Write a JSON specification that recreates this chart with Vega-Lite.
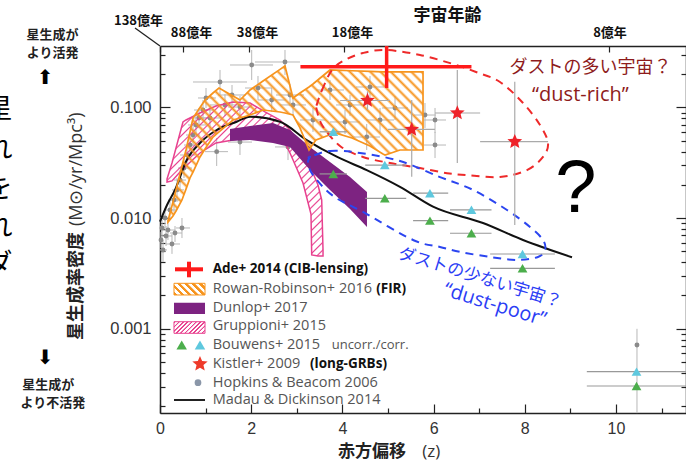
{
"$schema":"https://vega.github.io/schema/vega-lite/v6.json",
"width":526,"height":367,
"autosize":{"type":"none"},
"padding":{"left":160,"top":46,"right":0,"bottom":49},
"background":"white",
"config":{"view":{"stroke":null},"axis":{"grid":false}},
"datasets":{
"hb":[
{"z":0.022,"v":0.00635,"zlo":0,"zhi":0.066,"vhi":0.00749,"vlo":0.00537},
{"z":0.044,"v":0.00815,"zlo":0,"zhi":0.11,"vhi":0.00962,"vlo":0.00661},
{"z":0.066,"v":0.00516,"zlo":0,"zhi":0.154,"vhi":0.00635,"vlo":0.00402},
{"z":0.11,"v":0.01003,"zlo":0,"zhi":0.219,"vhi":0.01235,"vlo":0.00815},
{"z":0.132,"v":0.0069,"zlo":0.044,"zhi":0.263,"vhi":0.00849,"vlo":0.0056},
{"z":0.175,"v":0.00781,"zlo":0.066,"zhi":0.329,"vhi":0.00962,"vlo":0.00635},
{"z":0.219,"v":0.01185,"zlo":0.11,"zhi":0.351,"vhi":0.0146,"vlo":0.00962},
{"z":0.263,"v":0.00584,"zlo":0.132,"zhi":0.439,"vhi":0.00719,"vlo":0.00475},
{"z":0.307,"v":0.0146,"zlo":0.175,"zhi":0.439,"vhi":0.018,"vlo":0.01137},
{"z":0.329,"v":0.00734,"zlo":0.219,"zhi":0.482,"vhi":0.00849,"vlo":0.00609},
{"z":0.373,"v":0.018,"zlo":0.263,"zhi":0.526,"vhi":0.02304,"vlo":0.014},
{"z":0.439,"v":0.0221,"zlo":0.307,"zhi":0.57,"vhi":0.0272,"vlo":0.018},
{"z":0.482,"v":0.00815,"zlo":0.351,"zhi":0.658,"vhi":0.01003,"vlo":0.00661},
{"z":0.526,"v":0.02836,"zlo":0.395,"zhi":0.702,"vhi":0.03492,"vlo":0.02304},
{"z":0.592,"v":0.0372,"zlo":0.439,"zhi":0.768,"vhi":0.0458,"vlo":0.0296},
{"z":0.658,"v":0.0458,"zlo":0.526,"zhi":0.833,"vhi":0.0564,"vlo":0.0372},
{"z":0.724,"v":0.0564,"zlo":0.57,"zhi":0.877,"vhi":0.0695,"vlo":0.0449},
{"z":0.789,"v":0.0695,"zlo":0.614,"zhi":1.009,"vhi":0.0837,"vlo":0.0564},
{"z":0.855,"v":0.0804,"zlo":0.658,"zhi":1.096,"vhi":0.099,"vlo":0.0653},
{"z":0.943,"v":0.0949,"zlo":0.746,"zhi":1.184,"vhi":0.1169,"vlo":0.0771},
{"z":1.009,"v":0.1219,"zlo":0.833,"zhi":1.228,"vhi":0.15,"vlo":0.099},
{"z":1.096,"v":0.0804,"zlo":0.833,"zhi":1.36,"vhi":0.1032,"vlo":0.0626},
{"z":1.243,"v":0.0399,"zlo":0.987,"zhi":1.491,"vhi":0.053,"vlo":0.0296},
{"z":1.316,"v":0.17,"zlo":0.724,"zhi":1.908,"vhi":0.2183,"vlo":0.1324},
{"z":1.425,"v":0.1054,"zlo":1.096,"zhi":1.754,"vhi":0.1324,"vlo":0.0837},
{"z":1.579,"v":0.1297,"zlo":1.272,"zhi":1.886,"vhi":0.1597,"vlo":0.1032},
{"z":1.754,"v":0.101,"zlo":1.491,"zhi":2.018,"vhi":0.127,"vlo":0.0804},
{"z":1.754,"v":0.0487,"zlo":1.491,"zhi":2.018,"vhi":0.0626,"vlo":0.0372},
{"z":2.011,"v":0.2421,"zlo":1.535,"zhi":2.478,"vhi":0.3309,"vlo":0.1772},
{"z":2.149,"v":0.15,"zlo":1.864,"zhi":2.456,"vhi":0.1927,"vlo":0.1169},
{"z":2.45,"v":0.1169,"zlo":2.149,"zhi":2.763,"vhi":0.15,"vlo":0.0911},
{"z":2.741,"v":0.2577,"zlo":2.083,"zhi":3.07,"vhi":0.3309,"vlo":0.1967},
{"z":2.807,"v":0.044,"zlo":2.522,"zhi":3.07,"vhi":0.0564,"vlo":0.0335},
{"z":2.851,"v":0.1297,"zlo":2.544,"zhi":3.158,"vhi":0.1631,"vlo":0.1032},
{"z":2.917,"v":0.1054,"zlo":2.632,"zhi":3.202,"vhi":0.1297,"vlo":0.0837},
{"z":3.355,"v":0.0771,"zlo":3.07,"zhi":3.64,"vhi":0.099,"vlo":0.0601},
{"z":3.728,"v":0.1439,"zlo":3.421,"zhi":4.035,"vhi":0.1772,"vlo":0.1169},
{"z":4.057,"v":0.074,"zlo":3.728,"zhi":4.386,"vhi":0.0949,"vlo":0.0576},
{"z":4.167,"v":0.1054,"zlo":3.86,"zhi":4.474,"vhi":0.1297,"vlo":0.0837},
{"z":4.533,"v":0.0541,"zlo":4.211,"zhi":4.825,"vhi":0.071,"vlo":0.0413},
{"z":4.605,"v":0.1532,"zlo":4.298,"zhi":4.912,"vhi":0.1927,"vlo":0.1219},
{"z":4.825,"v":0.0771,"zlo":4.518,"zhi":5.132,"vhi":0.099,"vlo":0.0588},
{"z":5.154,"v":0.099,"zlo":4.868,"zhi":5.439,"vhi":0.127,"vlo":0.0771},
{"z":5.811,"v":0.0855,"zlo":5.57,"zhi":6.053,"vhi":0.1099,"vlo":0.0653},
{"z":6.031,"v":0.0771,"zlo":5.789,"zhi":6.272,"vhi":0.099,"vlo":0.0588},
{"z":6.031,"v":0.0458,"zlo":5.789,"zhi":6.272,"vhi":0.0601,"vlo":0.03492},
{"z":10.46,"v":0.000714,"zlo":10.46,"zhi":10.46,"vhi":0.001,"vlo":0.000173}
],
"orange":[
{"z":0.175,"hi":0.0095,"lo":0.0092},{"z":0.285,"hi":0.014,"lo":0.01045},{"z":0.351,"hi":0.018,"lo":0.0116},
{"z":0.482,"hi":0.0296,"lo":0.0146},{"z":0.57,"hi":0.0413,"lo":0.0183},{"z":0.658,"hi":0.0601,"lo":0.0231},
{"z":0.724,"hi":0.0804,"lo":0.0261},{"z":0.877,"hi":0.1,"lo":0.0357},{"z":0.987,"hi":0.1169,"lo":0.0422},
{"z":1.162,"hi":0.1352,"lo":0.0541},{"z":1.294,"hi":0.15,"lo":0.0601},{"z":1.601,"hi":0.127,"lo":0.0771},
{"z":1.754,"hi":0.1169,"lo":0.0804},{"z":1.974,"hi":0.1439,"lo":0.0855},{"z":2.259,"hi":0.1736,"lo":0.0949},
{"z":2.632,"hi":0.221,"lo":0.0911},{"z":2.741,"hi":0.2371,"lo":0.0892},{"z":2.917,"hi":0.1219,"lo":0.0855},
{"z":3.07,"hi":0.1352,"lo":0.0653},{"z":3.268,"hi":0.1532,"lo":0.0413},{"z":3.355,"hi":0.1631,"lo":0.0468},
{"z":3.421,"hi":0.1718,"lo":0.0508},{"z":3.728,"hi":0.2183,"lo":0.0567},{"z":3.838,"hi":0.2174,"lo":0.0588},
{"z":4.211,"hi":0.2147,"lo":0.053},{"z":4.605,"hi":0.2116,"lo":0.0449},{"z":4.89,"hi":0.2094,"lo":0.038},
{"z":4.934,"hi":0.2094,"lo":0.0372},{"z":5.263,"hi":0.2094,"lo":0.0413},{"z":5.768,"hi":0.2094,"lo":0.0413}
],
"pink":[
{"z":0.154,"hi":0.02256,"lo":0.0212},{"z":0.263,"hi":0.03148,"lo":0.0217},{"z":0.439,"hi":0.0588,"lo":0.0261},
{"z":0.504,"hi":0.074,"lo":0.0278},{"z":0.57,"hi":0.0771,"lo":0.0296},{"z":0.877,"hi":0.0892,"lo":0.0388},
{"z":1.228,"hi":0.1032,"lo":0.0478},{"z":1.601,"hi":0.1121,"lo":0.0508},{"z":1.974,"hi":0.1098,"lo":0.0553},
{"z":2.303,"hi":0.0911,"lo":0.0588},{"z":2.632,"hi":0.0771,"lo":0.0588},{"z":2.851,"hi":0.0626,"lo":0.0388},
{"z":3.004,"hi":0.0498,"lo":0.0278},{"z":3.136,"hi":0.0388,"lo":0.0208},{"z":3.311,"hi":0.0285,"lo":0.0109},
{"z":3.327,"hi":0.0272,"lo":0.00465},{"z":3.465,"hi":0.0199,"lo":0.00455},{"z":3.546,"hi":0.0146,"lo":0.00455},
{"z":3.575,"hi":0.00516,"lo":0.00455}
],
"purple":[
{"z":1.535,"hi":0.0639,"lo":0.0498},{"z":1.974,"hi":0.0681,"lo":0.0508},{"z":2.478,"hi":0.0724,"lo":0.0478},
{"z":2.851,"hi":0.0626,"lo":0.044},{"z":3.289,"hi":0.044,"lo":0.0272},{"z":3.728,"hi":0.0322,"lo":0.018},
{"z":4.167,"hi":0.0235,"lo":0.0121},{"z":4.539,"hi":0.0172,"lo":0.00832}
],
"madau":[
{"z":0,"v":0.00929},{"z":0.154,"v":0.01315},{"z":0.329,"v":0.018},{"z":0.586,"v":0.0335},{"z":0.877,"v":0.0478},
{"z":1.243,"v":0.0626},{"z":1.682,"v":0.0744},{"z":1.974,"v":0.0826},{"z":2.632,"v":0.0744},{"z":3.217,"v":0.0508},
{"z":3.875,"v":0.0359},{"z":4.533,"v":0.0272},{"z":5.263,"v":0.0192},{"z":5.987,"v":0.0127},{"z":7.083,"v":0.00904},
{"z":7.961,"v":0.00635},{"z":9.035,"v":0.00443}
],
"redloop":[
{"i":1,"z":3.421,"v":0.101},{"i":2,"z":3.553,"v":0.1439},{"i":3,"z":3.772,"v":0.2183},{"i":4,"z":4.057,"v":0.2687},
{"i":5,"z":4.452,"v":0.3108},{"i":6,"z":4.956,"v":0.3309},{"i":7,"z":5.702,"v":0.2981},{"i":8,"z":6.425,"v":0.2472},
{"i":9,"z":6.93,"v":0.2094},{"i":10,"z":7.456,"v":0.17},{"i":11,"z":7.961,"v":0.1099},{"i":12,"z":8.333,"v":0.0695},
{"i":13,"z":8.509,"v":0.0477},{"i":14,"z":8.399,"v":0.0357},{"i":15,"z":8.048,"v":0.0272},{"i":16,"z":7.456,"v":0.0235},
{"i":17,"z":6.732,"v":0.0245},{"i":18,"z":6.294,"v":0.0255},{"i":19,"z":5.702,"v":0.02836},{"i":20,"z":5.044,"v":0.0315},
{"i":21,"z":4.452,"v":0.0357},{"i":22,"z":3.947,"v":0.0449},{"i":23,"z":3.553,"v":0.0695},{"i":24,"z":3.421,"v":0.101}
],
"blueloop":[
{"i":1,"z":3.289,"v":0.0357},{"i":2,"z":3.728,"v":0.0405},{"i":3,"z":4.386,"v":0.0388},{"i":4,"z":5.263,"v":0.0328},
{"i":5,"z":6.14,"v":0.0235},{"i":6,"z":6.864,"v":0.018},{"i":7,"z":7.61,"v":0.01185},{"i":8,"z":8.114,"v":0.00832},
{"i":9,"z":8.399,"v":0.00635},{"i":10,"z":8.443,"v":0.00516},{"i":11,"z":8.289,"v":0.00446},{"i":12,"z":7.829,"v":0.00419},
{"i":13,"z":7.237,"v":0.00446},{"i":14,"z":6.579,"v":0.00495},{"i":15,"z":6.14,"v":0.00549},{"i":16,"z":5.548,"v":0.00635},
{"i":17,"z":4.452,"v":0.01137},{"i":18,"z":3.794,"v":0.0159},{"i":19,"z":3.355,"v":0.0245},{"i":20,"z":3.246,"v":0.0321},
{"i":21,"z":3.289,"v":0.0357}
],
"bouwens":[
{"kind":"corr","z":3.8,"v":0.0603,"zlo":3.5,"zhi":4.1},{"kind":"corr","z":4.93,"v":0.0302,"zlo":4.5,"zhi":5.4},
{"kind":"corr","z":5.92,"v":0.0168,"zlo":5.55,"zhi":6.32},{"kind":"corr","z":6.83,"v":0.0119,"zlo":6.36,"zhi":7.27},
{"kind":"corr","z":7.95,"v":0.00474,"zlo":7.24,"zhi":8.66},{"kind":"corr","z":10.45,"v":0.00041,"zlo":9.36,"zhi":11.6},
{"kind":"uncorr","z":3.8,"v":0.0251,"zlo":3.5,"zhi":4.1},{"kind":"uncorr","z":4.93,"v":0.0151,"zlo":4.5,"zhi":5.4},
{"kind":"uncorr","z":5.92,"v":0.0095,"zlo":5.55,"zhi":6.32},{"kind":"uncorr","z":6.83,"v":0.0073,"zlo":6.36,"zhi":7.27},
{"kind":"uncorr","z":7.95,"v":0.00352,"zlo":7.24,"zhi":8.66},{"kind":"uncorr","z":10.45,"v":0.000304,"zlo":9.36,"zhi":11.6}
],
"kistler":[
{"z":4.55,"v":0.1157,"zlo":3.95,"zhi":5.04,"vhi":0.14,"vlo":0.095},
{"z":5.52,"v":0.0633,"zlo":5.0,"zhi":6.03,"vhi":0.1169,"vlo":0.0237},
{"z":6.52,"v":0.0892,"zlo":6.03,"zhi":7.02,"vhi":0.2183,"vlo":0.0315},
{"z":7.78,"v":0.0491,"zlo":7.02,"zhi":8.51,"vhi":0.1711,"vlo":0.00867}
],
"ade":[{"z":4.97,"v":0.2337,"zlo":3.08,"zhi":6.83,"vlo":0.15,"vhi":0.3595}]
},
"layer":[
{"layer":[
{"data":{"name":"hb"},"mark":{"type":"rule","color":"#b8b8b8","strokeWidth":1},
 "encoding":{
  "x":{"field":"zlo","type":"quantitative","scale":{"domain":[0,11.535],"nice":false,"zero":false},
   "axis":{"orient":"bottom","title":null,"values":[0,0.5,1,1.5,2,2.5,3,3.5,4,4.5,5,5.5,6,6.5,7,7.5,8,8.5,9,9.5,10,10.5,11,11.5],
    "labelExpr":"datum.value % 2 == 0 ? datum.value : ''",
    "tickSize":{"condition":{"test":"datum.value % 2 == 0","value":-9},"value":-5},
    "tickColor":"#222","tickWidth":1.2,"domainColor":"#222","domainWidth":1.5,
    "labelFont":"Liberation Sans","labelFontSize":16,"labelColor":"#333","labelPadding":16,"labelFlush":false,"labelOverlap":false}},
  "x2":{"field":"zhi"},
  "y":{"field":"v","type":"quantitative","scale":{"type":"log","domain":[0.0001734,0.3595],"nice":false},
   "axis":{"orient":"left","title":null,
    "values":[0.0002,0.0003,0.0004,0.0005,0.0006,0.0007,0.0008,0.0009,0.001,0.002,0.003,0.004,0.005,0.006,0.007,0.008,0.009,0.01,0.02,0.03,0.04,0.05,0.06,0.07,0.08,0.09,0.1,0.2,0.3],
    "labelExpr":"datum.value == 0.1 || datum.value == 0.01 || datum.value == 0.001 ? format(datum.value, '.3f') : ''",
    "tickSize":{"condition":{"test":"datum.value == 0.1 || datum.value == 0.01 || datum.value == 0.001","value":-10},"value":-5},
    "tickColor":"#222","tickWidth":1.2,"domainColor":"#222","domainWidth":1.5,
    "labelFont":"Liberation Sans","labelFontSize":16.5,"labelColor":"#333","labelPadding":19,"labelFlush":false,"labelOverlap":false,"labelBaseline":"middle"}}}},
{"data":{"name":"hb"},"mark":{"type":"rule","color":"#b8b8b8","strokeWidth":1},
 "encoding":{"x":{"field":"z","type":"quantitative"},"y":{"field":"vlo","type":"quantitative","scale":{"type":"log"}},"y2":{"field":"vhi"}}},
{"data":{"name":"hb"},"mark":{"type":"circle","color":"#8a8a8a","size":24,"opacity":1},
 "encoding":{"x":{"field":"z","type":"quantitative"},"y":{"field":"v","type":"quantitative","scale":{"type":"log"}}}},
{"data":{"name":"pink"},"mark":{"type":"area","opacity":1,"stroke":"#e8418f","strokeWidth":1.5,
  "fill":{"gradient":"linear","x1":0,"y1":0,"x2":1,"y2":1,"stops":[
{"offset":0,"color":"rgba(232,65,143,0)"},{"offset":0.005,"color":"#e8418f"},{"offset":0.01,"color":"rgba(232,65,143,0)"},
{"offset":0.025,"color":"rgba(232,65,143,0)"},{"offset":0.03,"color":"#e8418f"},{"offset":0.035,"color":"rgba(232,65,143,0)"},
{"offset":0.05,"color":"rgba(232,65,143,0)"},{"offset":0.055,"color":"#e8418f"},{"offset":0.06,"color":"rgba(232,65,143,0)"},
{"offset":0.075,"color":"rgba(232,65,143,0)"},{"offset":0.08,"color":"#e8418f"},{"offset":0.085,"color":"rgba(232,65,143,0)"},
{"offset":0.1,"color":"rgba(232,65,143,0)"},{"offset":0.105,"color":"#e8418f"},{"offset":0.11,"color":"rgba(232,65,143,0)"},
{"offset":0.125,"color":"rgba(232,65,143,0)"},{"offset":0.13,"color":"#e8418f"},{"offset":0.135,"color":"rgba(232,65,143,0)"},
{"offset":0.15,"color":"rgba(232,65,143,0)"},{"offset":0.155,"color":"#e8418f"},{"offset":0.16,"color":"rgba(232,65,143,0)"},
{"offset":0.175,"color":"rgba(232,65,143,0)"},{"offset":0.18,"color":"#e8418f"},{"offset":0.185,"color":"rgba(232,65,143,0)"},
{"offset":0.2,"color":"rgba(232,65,143,0)"},{"offset":0.205,"color":"#e8418f"},{"offset":0.21,"color":"rgba(232,65,143,0)"},
{"offset":0.225,"color":"rgba(232,65,143,0)"},{"offset":0.23,"color":"#e8418f"},{"offset":0.235,"color":"rgba(232,65,143,0)"},
{"offset":0.25,"color":"rgba(232,65,143,0)"},{"offset":0.255,"color":"#e8418f"},{"offset":0.26,"color":"rgba(232,65,143,0)"},
{"offset":0.275,"color":"rgba(232,65,143,0)"},{"offset":0.28,"color":"#e8418f"},{"offset":0.285,"color":"rgba(232,65,143,0)"},
{"offset":0.3,"color":"rgba(232,65,143,0)"},{"offset":0.305,"color":"#e8418f"},{"offset":0.31,"color":"rgba(232,65,143,0)"},
{"offset":0.325,"color":"rgba(232,65,143,0)"},{"offset":0.33,"color":"#e8418f"},{"offset":0.335,"color":"rgba(232,65,143,0)"},
{"offset":0.35,"color":"rgba(232,65,143,0)"},{"offset":0.355,"color":"#e8418f"},{"offset":0.36,"color":"rgba(232,65,143,0)"},
{"offset":0.375,"color":"rgba(232,65,143,0)"},{"offset":0.38,"color":"#e8418f"},{"offset":0.385,"color":"rgba(232,65,143,0)"},
{"offset":0.4,"color":"rgba(232,65,143,0)"},{"offset":0.405,"color":"#e8418f"},{"offset":0.41,"color":"rgba(232,65,143,0)"},
{"offset":0.425,"color":"rgba(232,65,143,0)"},{"offset":0.43,"color":"#e8418f"},{"offset":0.435,"color":"rgba(232,65,143,0)"},
{"offset":0.45,"color":"rgba(232,65,143,0)"},{"offset":0.455,"color":"#e8418f"},{"offset":0.46,"color":"rgba(232,65,143,0)"},
{"offset":0.475,"color":"rgba(232,65,143,0)"},{"offset":0.48,"color":"#e8418f"},{"offset":0.485,"color":"rgba(232,65,143,0)"},
{"offset":0.5,"color":"rgba(232,65,143,0)"},{"offset":0.505,"color":"#e8418f"},{"offset":0.51,"color":"rgba(232,65,143,0)"},
{"offset":0.525,"color":"rgba(232,65,143,0)"},{"offset":0.53,"color":"#e8418f"},{"offset":0.535,"color":"rgba(232,65,143,0)"},
{"offset":0.55,"color":"rgba(232,65,143,0)"},{"offset":0.555,"color":"#e8418f"},{"offset":0.56,"color":"rgba(232,65,143,0)"},
{"offset":0.575,"color":"rgba(232,65,143,0)"},{"offset":0.58,"color":"#e8418f"},{"offset":0.585,"color":"rgba(232,65,143,0)"},
{"offset":0.6,"color":"rgba(232,65,143,0)"},{"offset":0.605,"color":"#e8418f"},{"offset":0.61,"color":"rgba(232,65,143,0)"},
{"offset":0.625,"color":"rgba(232,65,143,0)"},{"offset":0.63,"color":"#e8418f"},{"offset":0.635,"color":"rgba(232,65,143,0)"},
{"offset":0.65,"color":"rgba(232,65,143,0)"},{"offset":0.655,"color":"#e8418f"},{"offset":0.66,"color":"rgba(232,65,143,0)"},
{"offset":0.675,"color":"rgba(232,65,143,0)"},{"offset":0.68,"color":"#e8418f"},{"offset":0.685,"color":"rgba(232,65,143,0)"},
{"offset":0.7,"color":"rgba(232,65,143,0)"},{"offset":0.705,"color":"#e8418f"},{"offset":0.71,"color":"rgba(232,65,143,0)"},
{"offset":0.725,"color":"rgba(232,65,143,0)"},{"offset":0.73,"color":"#e8418f"},{"offset":0.735,"color":"rgba(232,65,143,0)"},
{"offset":0.75,"color":"rgba(232,65,143,0)"},{"offset":0.755,"color":"#e8418f"},{"offset":0.76,"color":"rgba(232,65,143,0)"},
{"offset":0.775,"color":"rgba(232,65,143,0)"},{"offset":0.78,"color":"#e8418f"},{"offset":0.785,"color":"rgba(232,65,143,0)"},
{"offset":0.8,"color":"rgba(232,65,143,0)"},{"offset":0.805,"color":"#e8418f"},{"offset":0.81,"color":"rgba(232,65,143,0)"},
{"offset":0.825,"color":"rgba(232,65,143,0)"},{"offset":0.83,"color":"#e8418f"},{"offset":0.835,"color":"rgba(232,65,143,0)"},
{"offset":0.85,"color":"rgba(232,65,143,0)"},{"offset":0.855,"color":"#e8418f"},{"offset":0.86,"color":"rgba(232,65,143,0)"},
{"offset":0.875,"color":"rgba(232,65,143,0)"},{"offset":0.88,"color":"#e8418f"},{"offset":0.885,"color":"rgba(232,65,143,0)"},
{"offset":0.9,"color":"rgba(232,65,143,0)"},{"offset":0.905,"color":"#e8418f"},{"offset":0.91,"color":"rgba(232,65,143,0)"},
{"offset":0.925,"color":"rgba(232,65,143,0)"},{"offset":0.93,"color":"#e8418f"},{"offset":0.935,"color":"rgba(232,65,143,0)"},
{"offset":0.95,"color":"rgba(232,65,143,0)"},{"offset":0.955,"color":"#e8418f"},{"offset":0.96,"color":"rgba(232,65,143,0)"},
{"offset":0.975,"color":"rgba(232,65,143,0)"},{"offset":0.98,"color":"#e8418f"},{"offset":0.985,"color":"rgba(232,65,143,0)"}]}},
 "encoding":{"x":{"field":"z","type":"quantitative"},"y":{"field":"hi","type":"quantitative","scale":{"type":"log"}},"y2":{"field":"lo"}}},
{"data":{"name":"purple"},"mark":{"type":"area","opacity":1,"color":"#7d2381"},
 "encoding":{"x":{"field":"z","type":"quantitative"},"y":{"field":"hi","type":"quantitative","scale":{"type":"log"}},"y2":{"field":"lo"}}},
{"data":{"name":"madau"},"mark":{"type":"line","color":"#111","strokeWidth":2,"interpolate":"monotone"},
 "encoding":{"x":{"field":"z","type":"quantitative"},"y":{"field":"v","type":"quantitative","scale":{"type":"log"}}}},
{"data":{"name":"orange"},"mark":{"type":"area","opacity":1,"stroke":"#f7941d","strokeWidth":1.7,
  "fill":{"gradient":"linear","x1":0,"y1":1,"x2":1.175,"y2":0.287,"stops":[
{"offset":0,"color":"rgba(247,148,29,0)"},{"offset":0.007,"color":"#f7941d"},{"offset":0.014,"color":"rgba(247,148,29,0)"},
{"offset":0.025,"color":"rgba(247,148,29,0)"},{"offset":0.032,"color":"#f7941d"},{"offset":0.039,"color":"rgba(247,148,29,0)"},
{"offset":0.05,"color":"rgba(247,148,29,0)"},{"offset":0.057,"color":"#f7941d"},{"offset":0.064,"color":"rgba(247,148,29,0)"},
{"offset":0.075,"color":"rgba(247,148,29,0)"},{"offset":0.082,"color":"#f7941d"},{"offset":0.089,"color":"rgba(247,148,29,0)"},
{"offset":0.1,"color":"rgba(247,148,29,0)"},{"offset":0.107,"color":"#f7941d"},{"offset":0.114,"color":"rgba(247,148,29,0)"},
{"offset":0.125,"color":"rgba(247,148,29,0)"},{"offset":0.132,"color":"#f7941d"},{"offset":0.139,"color":"rgba(247,148,29,0)"},
{"offset":0.15,"color":"rgba(247,148,29,0)"},{"offset":0.157,"color":"#f7941d"},{"offset":0.164,"color":"rgba(247,148,29,0)"},
{"offset":0.175,"color":"rgba(247,148,29,0)"},{"offset":0.182,"color":"#f7941d"},{"offset":0.189,"color":"rgba(247,148,29,0)"},
{"offset":0.2,"color":"rgba(247,148,29,0)"},{"offset":0.207,"color":"#f7941d"},{"offset":0.214,"color":"rgba(247,148,29,0)"},
{"offset":0.225,"color":"rgba(247,148,29,0)"},{"offset":0.232,"color":"#f7941d"},{"offset":0.239,"color":"rgba(247,148,29,0)"},
{"offset":0.25,"color":"rgba(247,148,29,0)"},{"offset":0.257,"color":"#f7941d"},{"offset":0.264,"color":"rgba(247,148,29,0)"},
{"offset":0.275,"color":"rgba(247,148,29,0)"},{"offset":0.282,"color":"#f7941d"},{"offset":0.289,"color":"rgba(247,148,29,0)"},
{"offset":0.3,"color":"rgba(247,148,29,0)"},{"offset":0.307,"color":"#f7941d"},{"offset":0.314,"color":"rgba(247,148,29,0)"},
{"offset":0.325,"color":"rgba(247,148,29,0)"},{"offset":0.332,"color":"#f7941d"},{"offset":0.339,"color":"rgba(247,148,29,0)"},
{"offset":0.35,"color":"rgba(247,148,29,0)"},{"offset":0.357,"color":"#f7941d"},{"offset":0.364,"color":"rgba(247,148,29,0)"},
{"offset":0.375,"color":"rgba(247,148,29,0)"},{"offset":0.382,"color":"#f7941d"},{"offset":0.389,"color":"rgba(247,148,29,0)"},
{"offset":0.4,"color":"rgba(247,148,29,0)"},{"offset":0.407,"color":"#f7941d"},{"offset":0.414,"color":"rgba(247,148,29,0)"},
{"offset":0.425,"color":"rgba(247,148,29,0)"},{"offset":0.432,"color":"#f7941d"},{"offset":0.439,"color":"rgba(247,148,29,0)"},
{"offset":0.45,"color":"rgba(247,148,29,0)"},{"offset":0.457,"color":"#f7941d"},{"offset":0.464,"color":"rgba(247,148,29,0)"},
{"offset":0.475,"color":"rgba(247,148,29,0)"},{"offset":0.482,"color":"#f7941d"},{"offset":0.489,"color":"rgba(247,148,29,0)"},
{"offset":0.5,"color":"rgba(247,148,29,0)"},{"offset":0.507,"color":"#f7941d"},{"offset":0.514,"color":"rgba(247,148,29,0)"},
{"offset":0.525,"color":"rgba(247,148,29,0)"},{"offset":0.532,"color":"#f7941d"},{"offset":0.539,"color":"rgba(247,148,29,0)"},
{"offset":0.55,"color":"rgba(247,148,29,0)"},{"offset":0.557,"color":"#f7941d"},{"offset":0.564,"color":"rgba(247,148,29,0)"},
{"offset":0.575,"color":"rgba(247,148,29,0)"},{"offset":0.582,"color":"#f7941d"},{"offset":0.589,"color":"rgba(247,148,29,0)"},
{"offset":0.6,"color":"rgba(247,148,29,0)"},{"offset":0.607,"color":"#f7941d"},{"offset":0.614,"color":"rgba(247,148,29,0)"},
{"offset":0.625,"color":"rgba(247,148,29,0)"},{"offset":0.632,"color":"#f7941d"},{"offset":0.639,"color":"rgba(247,148,29,0)"},
{"offset":0.65,"color":"rgba(247,148,29,0)"},{"offset":0.657,"color":"#f7941d"},{"offset":0.664,"color":"rgba(247,148,29,0)"},
{"offset":0.675,"color":"rgba(247,148,29,0)"},{"offset":0.682,"color":"#f7941d"},{"offset":0.689,"color":"rgba(247,148,29,0)"},
{"offset":0.7,"color":"rgba(247,148,29,0)"},{"offset":0.707,"color":"#f7941d"},{"offset":0.714,"color":"rgba(247,148,29,0)"},
{"offset":0.725,"color":"rgba(247,148,29,0)"},{"offset":0.732,"color":"#f7941d"},{"offset":0.739,"color":"rgba(247,148,29,0)"},
{"offset":0.75,"color":"rgba(247,148,29,0)"},{"offset":0.757,"color":"#f7941d"},{"offset":0.764,"color":"rgba(247,148,29,0)"},
{"offset":0.775,"color":"rgba(247,148,29,0)"},{"offset":0.782,"color":"#f7941d"},{"offset":0.789,"color":"rgba(247,148,29,0)"},
{"offset":0.8,"color":"rgba(247,148,29,0)"},{"offset":0.807,"color":"#f7941d"},{"offset":0.814,"color":"rgba(247,148,29,0)"},
{"offset":0.825,"color":"rgba(247,148,29,0)"},{"offset":0.832,"color":"#f7941d"},{"offset":0.839,"color":"rgba(247,148,29,0)"},
{"offset":0.85,"color":"rgba(247,148,29,0)"},{"offset":0.857,"color":"#f7941d"},{"offset":0.864,"color":"rgba(247,148,29,0)"},
{"offset":0.875,"color":"rgba(247,148,29,0)"},{"offset":0.882,"color":"#f7941d"},{"offset":0.889,"color":"rgba(247,148,29,0)"},
{"offset":0.9,"color":"rgba(247,148,29,0)"},{"offset":0.907,"color":"#f7941d"},{"offset":0.914,"color":"rgba(247,148,29,0)"},
{"offset":0.925,"color":"rgba(247,148,29,0)"},{"offset":0.932,"color":"#f7941d"},{"offset":0.939,"color":"rgba(247,148,29,0)"},
{"offset":0.95,"color":"rgba(247,148,29,0)"},{"offset":0.957,"color":"#f7941d"},{"offset":0.964,"color":"rgba(247,148,29,0)"},
{"offset":0.975,"color":"rgba(247,148,29,0)"},{"offset":0.982,"color":"#f7941d"},{"offset":0.989,"color":"rgba(247,148,29,0)"}]}},
 "encoding":{"x":{"field":"z","type":"quantitative"},"y":{"field":"hi","type":"quantitative","scale":{"type":"log"}},"y2":{"field":"lo"}}},
{"data":{"name":"redloop"},"mark":{"type":"line","color":"#ee2a2a","strokeWidth":2,"strokeDash":[8,6],"interpolate":"cardinal-closed"},
 "encoding":{"x":{"field":"z","type":"quantitative"},"y":{"field":"v","type":"quantitative","scale":{"type":"log"}},"order":{"field":"i"}}},
{"data":{"name":"blueloop"},"mark":{"type":"line","color":"#2b45f0","strokeWidth":2,"strokeDash":[8,6],"interpolate":"cardinal-closed"},
 "encoding":{"x":{"field":"z","type":"quantitative"},"y":{"field":"v","type":"quantitative","scale":{"type":"log"}},"order":{"field":"i"}}},
{"data":{"name":"bouwens"},"mark":{"type":"rule","color":"#999","strokeWidth":1.2},
 "encoding":{"x":{"field":"zlo","type":"quantitative"},"x2":{"field":"zhi"},"y":{"field":"v","type":"quantitative","scale":{"type":"log"}}}},
{"data":{"name":"bouwens"},"mark":{"type":"point","shape":"triangle-up","filled":true,"size":95,"opacity":1},
 "encoding":{"x":{"field":"z","type":"quantitative"},"y":{"field":"v","type":"quantitative","scale":{"type":"log"}},
  "color":{"field":"kind","type":"nominal","scale":{"domain":["uncorr","corr"],"range":["#4cae4c","#5ec8de"]},"legend":null}}},
{"data":{"name":"kistler"},"mark":{"type":"rule","color":"#aaa","strokeWidth":1.2},
 "encoding":{"x":{"field":"zlo","type":"quantitative"},"x2":{"field":"zhi"},"y":{"field":"v","type":"quantitative","scale":{"type":"log"}}}},
{"data":{"name":"kistler"},"mark":{"type":"rule","color":"#aaa","strokeWidth":1.2},
 "encoding":{"x":{"field":"z","type":"quantitative"},"y":{"field":"vlo","type":"quantitative","scale":{"type":"log"}},"y2":{"field":"vhi"}}},
{"data":{"name":"kistler"},"mark":{"type":"point","shape":"M0,-1L0.265,-0.364L0.951,-0.309L0.428,0.139L0.588,0.809L0,0.45L-0.588,0.809L-0.428,0.139L-0.951,-0.309L-0.265,-0.364Z","filled":true,"size":240,"color":"#ee2229","opacity":1},
 "encoding":{"x":{"field":"z","type":"quantitative"},"y":{"field":"v","type":"quantitative","scale":{"type":"log"}}}},
{"data":{"name":"ade"},"mark":{"type":"rule","color":"#ff1a1a","strokeWidth":3.5},
 "encoding":{"x":{"field":"zlo","type":"quantitative"},"x2":{"field":"zhi"},"y":{"field":"v","type":"quantitative","scale":{"type":"log"}}}},
{"data":{"name":"ade"},"mark":{"type":"rule","color":"#ff1a1a","strokeWidth":3.5},
 "encoding":{"x":{"field":"z","type":"quantitative"},"y":{"field":"vlo","type":"quantitative","scale":{"type":"log"}},"y2":{"field":"vhi"}}},
{"data":{"values":[{"z1":0.329,"z2":0.943,"v":0.003449}]},"mark":{"type":"rule","color":"#ff1a1a","strokeWidth":4},
 "encoding":{"x":{"field":"z1","type":"quantitative"},"x2":{"field":"z2"},"y":{"field":"v","type":"quantitative","scale":{"type":"log"}}}},
{"data":{"values":[{"z":0.636,"v1":0.00404,"v2":0.00292}]},"mark":{"type":"rule","color":"#ff1a1a","strokeWidth":4},
 "encoding":{"x":{"field":"z","type":"quantitative"},"y":{"field":"v1","type":"quantitative","scale":{"type":"log"}},"y2":{"field":"v2"}}},
{"data":{"values":[{"z1":0.307,"z2":0.987,"v1":0.002577,"v2":0.002021}]},
 "mark":{"type":"rect","stroke":"#f7941d","strokeWidth":1,
  "fill":{"gradient":"linear","x1":0,"y1":1,"x2":1.206,"y2":0.545,"stops":[
{"offset":0,"color":"rgba(247,148,29,0)"},{"offset":0.01,"color":"#f7941d"},{"offset":0.08,"color":"#f7941d"},{"offset":0.09,"color":"rgba(247,148,29,0)"},
{"offset":0.1667,"color":"rgba(247,148,29,0)"},{"offset":0.1767,"color":"#f7941d"},{"offset":0.2467,"color":"#f7941d"},{"offset":0.2567,"color":"rgba(247,148,29,0)"},
{"offset":0.3333,"color":"rgba(247,148,29,0)"},{"offset":0.3433,"color":"#f7941d"},{"offset":0.4133,"color":"#f7941d"},{"offset":0.4233,"color":"rgba(247,148,29,0)"},
{"offset":0.5,"color":"rgba(247,148,29,0)"},{"offset":0.51,"color":"#f7941d"},{"offset":0.58,"color":"#f7941d"},{"offset":0.59,"color":"rgba(247,148,29,0)"},
{"offset":0.6667,"color":"rgba(247,148,29,0)"},{"offset":0.6767,"color":"#f7941d"},{"offset":0.7467,"color":"#f7941d"},{"offset":0.7567,"color":"rgba(247,148,29,0)"},
{"offset":0.8333,"color":"rgba(247,148,29,0)"},{"offset":0.8433,"color":"#f7941d"},{"offset":0.9133,"color":"#f7941d"},{"offset":0.9233,"color":"rgba(247,148,29,0)"}]}},
 "encoding":{"x":{"field":"z1","type":"quantitative"},"x2":{"field":"z2"},"y":{"field":"v1","type":"quantitative","scale":{"type":"log"}},"y2":{"field":"v2"}}},
{"data":{"values":[{"z1":0.307,"z2":0.987,"v1":0.001721,"v2":0.00136}]},"mark":{"type":"rect","color":"#7d2381"},
 "encoding":{"x":{"field":"z1","type":"quantitative"},"x2":{"field":"z2"},"y":{"field":"v1","type":"quantitative","scale":{"type":"log"}},"y2":{"field":"v2"}}},
{"data":{"values":[{"z1":0.307,"z2":0.987,"v1":0.001159,"v2":0.0009106}]},
 "mark":{"type":"rect","stroke":"#e8418f","strokeWidth":1,
  "fill":{"gradient":"linear","x1":0,"y1":0,"x2":1.206,"y2":0.455,"stops":[
{"offset":0,"color":"rgba(232,65,143,0)"},{"offset":0.01,"color":"#e8418f"},{"offset":0.04,"color":"#e8418f"},{"offset":0.05,"color":"rgba(232,65,143,0)"},
{"offset":0.1,"color":"rgba(232,65,143,0)"},{"offset":0.11,"color":"#e8418f"},{"offset":0.14,"color":"#e8418f"},{"offset":0.15,"color":"rgba(232,65,143,0)"},
{"offset":0.2,"color":"rgba(232,65,143,0)"},{"offset":0.21,"color":"#e8418f"},{"offset":0.24,"color":"#e8418f"},{"offset":0.25,"color":"rgba(232,65,143,0)"},
{"offset":0.3,"color":"rgba(232,65,143,0)"},{"offset":0.31,"color":"#e8418f"},{"offset":0.34,"color":"#e8418f"},{"offset":0.35,"color":"rgba(232,65,143,0)"},
{"offset":0.4,"color":"rgba(232,65,143,0)"},{"offset":0.41,"color":"#e8418f"},{"offset":0.44,"color":"#e8418f"},{"offset":0.45,"color":"rgba(232,65,143,0)"},
{"offset":0.5,"color":"rgba(232,65,143,0)"},{"offset":0.51,"color":"#e8418f"},{"offset":0.54,"color":"#e8418f"},{"offset":0.55,"color":"rgba(232,65,143,0)"},
{"offset":0.6,"color":"rgba(232,65,143,0)"},{"offset":0.61,"color":"#e8418f"},{"offset":0.64,"color":"#e8418f"},{"offset":0.65,"color":"rgba(232,65,143,0)"},
{"offset":0.7,"color":"rgba(232,65,143,0)"},{"offset":0.71,"color":"#e8418f"},{"offset":0.74,"color":"#e8418f"},{"offset":0.75,"color":"rgba(232,65,143,0)"},
{"offset":0.8,"color":"rgba(232,65,143,0)"},{"offset":0.81,"color":"#e8418f"},{"offset":0.84,"color":"#e8418f"},{"offset":0.85,"color":"rgba(232,65,143,0)"},
{"offset":0.9,"color":"rgba(232,65,143,0)"},{"offset":0.91,"color":"#e8418f"},{"offset":0.94,"color":"#e8418f"},{"offset":0.95,"color":"rgba(232,65,143,0)"}]}},
 "encoding":{"x":{"field":"z1","type":"quantitative"},"x2":{"field":"z2"},"y":{"field":"v1","type":"quantitative","scale":{"type":"log"}},"y2":{"field":"v2"}}},
{"data":{"values":[{"kind":"uncorr","z":0.476,"v":0.0007139},{"kind":"corr","z":0.877,"v":0.0007139}]},
 "mark":{"type":"point","shape":"triangle-up","filled":true,"size":110,"opacity":1},
 "encoding":{"x":{"field":"z","type":"quantitative"},"y":{"field":"v","type":"quantitative","scale":{"type":"log"}},
  "color":{"field":"kind","type":"nominal","scale":{"domain":["uncorr","corr"],"range":["#4cae4c","#5ec8de"]},"legend":null}}},
{"data":{"values":[{"z":0.877,"v":0.0004807}]},
 "mark":{"type":"point","shape":"M0,-1L0.265,-0.364L0.951,-0.309L0.428,0.139L0.588,0.809L0,0.45L-0.588,0.809L-0.428,0.139L-0.951,-0.309L-0.265,-0.364Z","filled":true,"size":260,"color":"#ee3a2a","opacity":1},
 "encoding":{"x":{"field":"z","type":"quantitative"},"y":{"field":"v","type":"quantitative","scale":{"type":"log"}}}},
{"data":{"values":[{"z":0.833,"v":0.0003258}]},"mark":{"type":"circle","size":45,"color":"#8a96a8","opacity":1},
 "encoding":{"x":{"field":"z","type":"quantitative"},"y":{"field":"v","type":"quantitative","scale":{"type":"log"}}}},
{"data":{"values":[{"z1":0.307,"z2":0.987,"v":0.0002273}]},"mark":{"type":"rule","color":"#222","strokeWidth":2},
 "encoding":{"x":{"field":"z1","type":"quantitative"},"x2":{"field":"z2"},"y":{"field":"v","type":"quantitative","scale":{"type":"log"}}}},
{"data":{"values":[
 {"z":1.156,"v":0.002275,"t":"Rowan-Robinson+ 2016"},{"z":1.156,"v":0.001551,"t":"Dunlop+ 2017"},
 {"z":1.156,"v":0.00106,"t":"Gruppioni+ 2015"},{"z":1.156,"v":0.0007139,"t":"Bouwens+ 2015"},
 {"z":1.156,"v":0.0004807,"t":"Kistler+ 2009"},{"z":1.156,"v":0.0003258,"t":"Hopkins & Beacom 2006"},
 {"z":1.156,"v":0.0002273,"t":"Madau & Dickinson 2014"}]},
 "mark":{"type":"text","align":"left","baseline":"middle","font":"Open Sans","fontSize":14.5,"color":"#555"},
 "encoding":{"x":{"field":"z","type":"quantitative"},"y":{"field":"v","type":"quantitative","scale":{"type":"log"}},"text":{"field":"t"}}},
{"data":{"values":[{"z":3.765,"v":0.0007139,"t":"uncorr./corr."}]},
 "mark":{"type":"text","align":"left","baseline":"middle","font":"Open Sans","fontSize":13,"color":"#555"},
 "encoding":{"x":{"field":"z","type":"quantitative"},"y":{"field":"v","type":"quantitative","scale":{"type":"log"}},"text":{"field":"t"}}},
{"data":{"values":[
 {"z":1.156,"v":0.003449,"t":"Ade+ 2014 (CIB-lensing)"},{"z":4.74,"v":0.002275,"t":"(FIR)"},{"z":3.29,"v":0.0004807,"t":"(long-GRBs)"}]},
 "mark":{"type":"text","align":"left","baseline":"middle","font":"Open Sans","fontSize":13.5,"fontWeight":"bold","color":"#111"},
 "encoding":{"x":{"field":"z","type":"quantitative"},"y":{"field":"v","type":"quantitative","scale":{"type":"log"}},"text":{"field":"t"}}},
{"data":{"values":[{"z":9.44,"v":0.2276,"t":"ダストの多い宇宙？"}]},
 "mark":{"type":"text","align":"center","baseline":"middle","font":"Noto Sans CJK JP","fontSize":18,"color":"#8e1b1b"},
 "encoding":{"x":{"field":"z","type":"quantitative"},"y":{"field":"v","type":"quantitative","scale":{"type":"log"}},"text":{"field":"t"}}},
{"data":{"values":[{"z":9.22,"v":0.1297,"t":"“dust-rich”"}]},
 "mark":{"type":"text","align":"center","baseline":"middle","font":"Open Sans","fontSize":20,"color":"#8e1b1b"},
 "encoding":{"x":{"field":"z","type":"quantitative"},"y":{"field":"v","type":"quantitative","scale":{"type":"log"}},"text":{"field":"t"}}},
{"data":{"values":[{"z":9.12,"v":0.018,"t":"?"}]},
 "mark":{"type":"text","align":"center","baseline":"middle","font":"Liberation Sans","fontSize":74,"color":"#000"},
 "encoding":{"x":{"field":"z","type":"quantitative"},"y":{"field":"v","type":"quantitative","scale":{"type":"log"}},"text":{"field":"t"}}},
{"data":{"values":[{"z":7.018,"v":0.002878,"t":"ダストの少ない宇宙？"}]},
 "mark":{"type":"text","align":"center","baseline":"middle","font":"Noto Sans CJK JP","fontSize":17,"color":"#2b3df5","angle":17},
 "encoding":{"x":{"field":"z","type":"quantitative"},"y":{"field":"v","type":"quantitative","scale":{"type":"log"}},"text":{"field":"t"}}},
{"data":{"values":[{"z":7.346,"v":0.001641,"t":"“dust-poor”"}]},
 "mark":{"type":"text","align":"center","baseline":"middle","font":"Open Sans","fontSize":20,"color":"#2b3df5","angle":17},
 "encoding":{"x":{"field":"z","type":"quantitative"},"y":{"field":"v","type":"quantitative","scale":{"type":"log"}},"text":{"field":"t"}}},
{"data":{"values":[
 {"z":-2.357,"v":0.4522,"t":"星生成が"},{"z":-2.357,"v":0.3088,"t":"より活発"},
 {"z":-2.45,"v":0.0003105,"t":"星生成が"},{"z":-2.35,"v":0.0002135,"t":"より不活発"}]},
 "mark":{"type":"text","align":"center","baseline":"middle","font":"Noto Sans CJK JP","fontSize":13,"fontWeight":"bold","color":"#222"},
 "encoding":{"x":{"field":"z","type":"quantitative"},"y":{"field":"v","type":"quantitative","scale":{"type":"log"}},"text":{"field":"t"}}},
{"data":{"values":[{"z":-2.52,"v":0.1847,"t":"⬆"},{"z":-2.52,"v":0.0005445,"t":"⬇"}]},
 "mark":{"type":"text","align":"center","baseline":"middle","font":"DejaVu Sans","fontSize":20,"color":"#000"},
 "encoding":{"x":{"field":"z","type":"quantitative"},"y":{"field":"v","type":"quantitative","scale":{"type":"log"}},"text":{"field":"t"}}},
{"data":{"values":[{"z":-3.53,"v":0.0949,"t":"星"},{"z":-3.53,"v":0.0413,"t":"れ"},{"z":-3.53,"v":0.018,"t":"を"},{"z":-3.53,"v":0.00815,"t":"れ"},{"z":-3.53,"v":0.00377,"t":"ダ"}]},
 "mark":{"type":"text","align":"center","baseline":"middle","font":"Noto Sans CJK JP","fontSize":27,"color":"#000"},
 "encoding":{"x":{"field":"z","type":"quantitative"},"y":{"field":"v","type":"quantitative","scale":{"type":"log"}},"text":{"field":"t"}}},
{"data":{"values":[{"z":-1.82,"v":0.000792,"t":"星生成率密度"}]},
 "mark":{"type":"text","align":"left","baseline":"middle","font":"Noto Sans CJK JP","fontSize":18,"fontWeight":"bold","color":"#222","angle":270},
 "encoding":{"x":{"field":"z","type":"quantitative"},"y":{"field":"v","type":"quantitative","scale":{"type":"log"}},"text":{"field":"t"}}},
{"data":{"values":[{"z":-1.82,"v":0.00849,"t":"(M⊙/yr/Mpc³)"}]},
 "mark":{"type":"text","align":"left","baseline":"middle","font":"Open Sans","fontSize":18,"color":"#333","angle":270},
 "encoding":{"x":{"field":"z","type":"quantitative"},"y":{"field":"v","type":"quantitative","scale":{"type":"log"}},"text":{"field":"t"}}},
{"data":{"values":[{"z":4.649,"v":0.000077,"t":"赤方偏移"}]},
 "mark":{"type":"text","align":"center","baseline":"middle","font":"Noto Sans CJK JP","fontSize":17,"fontWeight":"bold","color":"#222"},
 "encoding":{"x":{"field":"z","type":"quantitative"},"y":{"field":"v","type":"quantitative","scale":{"type":"log"}},"text":{"field":"t"}}},
{"data":{"values":[{"z":5.95,"v":0.000077,"t":"(z)"}]},
 "mark":{"type":"text","align":"center","baseline":"middle","font":"Open Sans","fontSize":17,"color":"#333"},
 "encoding":{"x":{"field":"z","type":"quantitative"},"y":{"field":"v","type":"quantitative","scale":{"type":"log"}},"text":{"field":"t"}}},
{"data":{"values":[{"z1":-0.548,"v1":0.5227,"z2":0,"v2":0.3595}]},"mark":{"type":"rule","color":"#222","strokeWidth":1.3},
 "encoding":{"x":{"field":"z1","type":"quantitative"},"x2":{"field":"z2"},"y":{"field":"v1","type":"quantitative","scale":{"type":"log"}},"y2":{"field":"v2"}}}
]},
{"data":{"values":[{"z":1,"v":0.01}]},"mark":{"type":"point","opacity":0},
 "encoding":{
  "x":{"field":"z","type":"quantitative",
   "axis":{"orient":"top","values":[0,0.504,1.952,4.035,9.857],
    "labelExpr":"datum.value == 0 ? '138億年' : datum.value < 1 ? '88億年' : datum.value < 3 ? '38億年' : datum.value < 5 ? '18億年' : '8億年'",
    "tickSize":-6,"tickColor":"#222","tickWidth":1.2,"domainColor":"#222","domainWidth":1.5,
    "labelFont":"Noto Sans CJK JP","labelFontSize":13,"labelFontWeight":"bold","labelColor":"#111","labelBaseline":"middle",
    "labelPadding":{"condition":{"test":"datum.value == 0","value":32},"value":20},
    "labelOffset":{"condition":[{"test":"datum.value == 0","value":-22},{"test":"datum.value > 9","value":0}],"value":8},
    "labelFlush":false,"labelOverlap":false,
    "title":"宇宙年齢","titleFont":"Noto Sans CJK JP","titleFontSize":17,"titleFontWeight":"bold","titleColor":"#111",
    "titleX":287,"titleY":-31,"titleBaseline":"middle","titleAlign":"center","titleAngle":0}},
  "y":{"field":"v","type":"quantitative","scale":{"type":"log"},
   "axis":{"orient":"right","title":null,"labels":false,
    "values":[0.0002,0.0003,0.0004,0.0005,0.0006,0.0007,0.0008,0.0009,0.001,0.002,0.003,0.004,0.005,0.006,0.007,0.008,0.009,0.01,0.02,0.03,0.04,0.05,0.06,0.07,0.08,0.09,0.1,0.2,0.3],
    "tickSize":{"condition":{"test":"datum.value == 0.1 || datum.value == 0.01 || datum.value == 0.001","value":-10},"value":-5},
    "tickColor":"#222","tickWidth":1.2,"domainColor":"#222","domainWidth":1.5}}}}
],
"resolve":{"axis":{"x":"independent","y":"independent"}}
}
